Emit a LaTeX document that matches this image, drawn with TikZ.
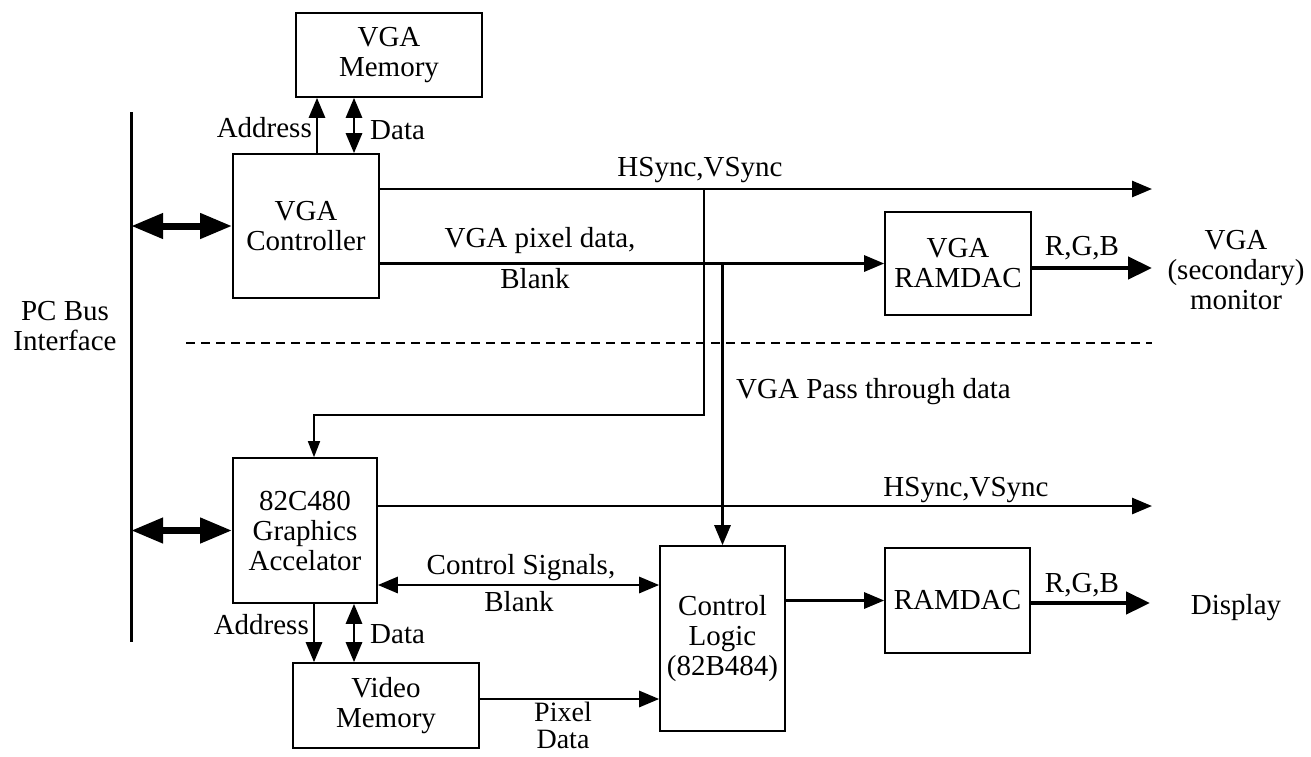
\documentclass[tikz,border=0pt]{standalone}
\usepackage{fontspec}
\setmainfont{Liberation Serif}
\usetikzlibrary{arrows.meta,calc}
\tikzset{
  every node/.style={font=\fontsize{29}{30}\selectfont},
  blk/.style={draw, line width=1.6pt, rectangle, inner sep=0pt, align=center},
  lbl/.style={inner sep=0pt, align=center},
  sig/.style={line width=2.8pt, -{Triangle[length=20pt,width=16pt]}},
  dsig/.style={line width=2.8pt, {Triangle[length=20pt,width=16pt]}-{Triangle[length=20pt,width=16pt]}},
  thin/.style={line width=1.6pt, -{Triangle[length=16pt,width=12pt]}},
  fat/.style={line width=4.5pt, -{Triangle[length=24pt,width=22pt]}},
  bus/.style={line width=7pt, {Triangle[length=32pt,width=24pt]}-{Triangle[length=32pt,width=24pt]}},
}
\begin{document}
\begin{tikzpicture}[x=1pt,y=-1pt]
\useasboundingbox (0,0) rectangle (1311,756);
% boxes
\node[blk, minimum width=186pt, minimum height=84pt] (vgamem) at (389,55) {VGA\\Memory};
\node[blk, minimum width=146pt, minimum height=144pt] (vgactl) at (306,226) {VGA\\Controller};
\node[blk, minimum width=146pt, minimum height=103pt] (vgadac) at (958,263.5) {VGA\\RAMDAC};
\node[blk, minimum width=144pt, minimum height=145pt] (accel) at (305,530.5) {82C480\\Graphics\\Accelator};
\node[blk, minimum width=125pt, minimum height=185pt] (ctl) at (722.5,638.5) {Control\\Logic\\(82B484)};
\node[blk, minimum width=145pt, minimum height=105pt] (dac) at (957.5,600.5) {RAMDAC};
\node[blk, minimum width=186pt, minimum height=85pt] (vidmem) at (386,705.5) {Video\\Memory};
% free ends
\coordinate (bt) at (131,112);
\coordinate (bb) at (131,642);
\coordinate (hs1) at (1152,189);
\coordinate (hs2) at (1152,506);
\coordinate (rgb1) at (1152,268);
\coordinate (rgb2) at (1150,603);
\coordinate (br) at (704,415);
\coordinate (ax1) at (317,0);
\coordinate (dx1) at (354,0);
\coordinate (ax2) at (314,0);
\coordinate (dx2) at (354,0);
\coordinate (dl) at (186,343);
\coordinate (dr) at (1152,343);
% bus
\draw[line width=3pt] (bt) -- (bb);
\draw[bus] (vgactl.west -| bt) -- (vgactl.west);
\draw[bus] (accel.west -| bt) -- (accel.west);
% VGA memory links
\draw[sig] (ax1 |- vgactl.north) -- (ax1 |- vgamem.south);
\draw[dsig] (dx1 |- vgactl.north) -- (dx1 |- vgamem.south);
% top signals
\draw[sig] (vgactl.east |- hs1) -- (hs1);
\draw[thin] (br |- hs1) -- (br) -- (ax2 |- br) -- (ax2 |- accel.north);
\draw[sig] (vgactl.east |- vgadac.west) -- (vgadac.west);
\draw[sig] (ctl.north |- vgadac.west) -- (ctl.north);
\draw[fat] (vgadac.east |- rgb1) -- (rgb1);
% divider
\draw[line width=2pt, dash pattern=on 9pt off 6pt] (dl) -- (dr);
% bottom signals
\draw[sig] (accel.east |- hs2) -- (hs2);
\draw[dsig] (accel.east |- 0,585) -- (ctl.west |- 0,585);
\draw[sig] (ax2 |- accel.south) -- (ax2 |- vidmem.north);
\draw[dsig] (dx2 |- accel.south) -- (dx2 |- vidmem.north);
\draw[sig] (vidmem.east |- 0,699) -- (ctl.west |- 0,699);
\draw[sig] (ctl.east |- dac.west) -- (dac.west);
\draw[fat] (dac.east |- rgb2) -- (rgb2);
% labels
\node[lbl, anchor=east] (la1) at (312,128) {Address};
\node[lbl, anchor=west] (ld1) at (370,130) {Data};
\node[lbl] (lhs1) at (700,170) {HSync,VSync};
\node[lbl] (lpx) at (540,241) {VGA pixel data,};
\node[lbl] (lbk1) at (535,279) {Blank};
\node[lbl] (lrgb1) at (1082,248) {R,G,B};
\node[lbl] (lmon) at (1236,270) {VGA\\(secondary)\\monitor};
\node[lbl] (lpc) at (65,326) {PC Bus\\Interface};
\node[lbl, anchor=west] (lpass) at (736,392) {VGA Pass through data};
\node[lbl] (lhs2) at (966,490) {HSync,VSync};
\node[lbl] (lcs) at (521,568) {Control Signals,};
\node[lbl] (lbk2) at (519,602) {Blank};
\node[lbl, anchor=east] (la2) at (309,625) {Address};
\node[lbl, anchor=west] (ld2) at (370,634) {Data};
\node[lbl, font=\fontsize{28}{27}\selectfont] (lpd) at (563,725) {Pixel\\Data};
\node[lbl] (lrgb2) at (1082,585) {R,G,B};
\node[lbl] (ldisp) at (1236,608) {Display};
\end{tikzpicture}
\end{document}
